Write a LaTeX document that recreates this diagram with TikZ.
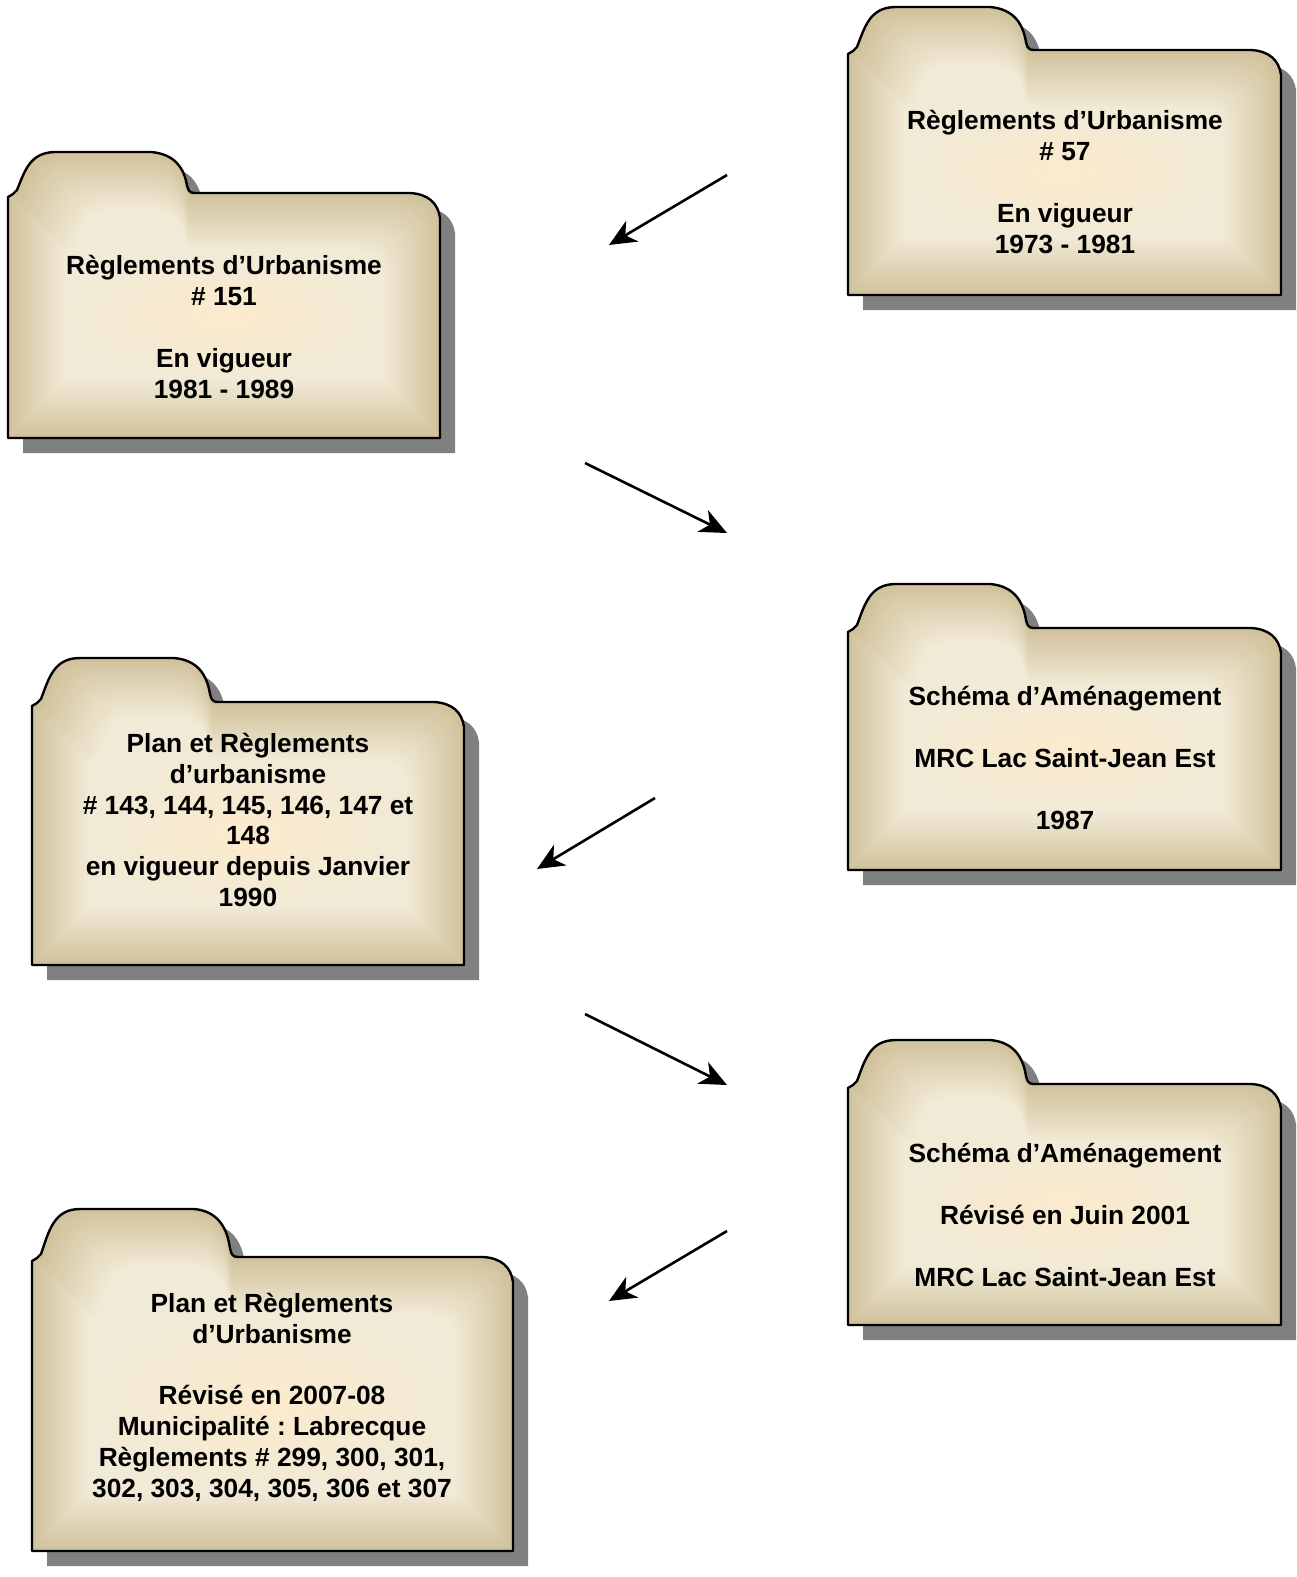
\documentclass[tikz,border=0pt]{standalone}
\usepackage{fontspec}
\setmainfont{Liberation Sans}
\frenchspacing
\usetikzlibrary{arrows.meta}
\definecolor{fcenter}{HTML}{FCEACC}
\definecolor{fmid}{HTML}{F1EAD6}
\definecolor{fedge}{HTML}{D0C29B}
\definecolor{fshadow}{HTML}{808080}
\newcommand\folderpath[6]{%
 (#1,#4) -- (#1,#2+4) -- (#1+5,#2+1) -- (#1+9,#2-3)
 .. controls (#1+17,#2-0.55*#5) and (#1+22,#2-#5) .. (#1+48,#2-#5)
 -- (#1+#6-40,#2-#5)
 .. controls (#1+#6-16,#2-#5+2) and (#1+#6-8,#2-0.6*#5) .. (#1+#6-5,#2-0.3*#5)
 .. controls (#1+#6-3,#2-0.05*#5) and (#1+#6-2,#2) .. (#1+#6+4,#2)
 -- (#3-30,#2) .. controls (#3-12,#2+1) and (#3-2,#2+10) .. (#3,#2+25)
 -- (#3,#4) -- cycle}
\newcommand\drawfolder[6]{%
  \fill[fshadow,shift={(15,15)}] \folderpath{#1}{#2}{#3}{#4}{#5}{#6};
  \foreach \d [evaluate=\d as \p using {\d*100/56}] in {0,4,...,56}{%
    \fill[fmid!\p!fedge] \folderpath{#1+\d}{#2+\d}{#3-\d}{#4-\d}{#5}{#6-\d};
  }
  \shade[inner color=fcenter,outer color=fmid]
    ({(#1+#3)/2},{(#2+#4)/2}) ellipse ({(#3-#1)/2-58} and {(#4-#2)/2-58});
  \draw[black,line width=2.4pt,line join=round] \folderpath{#1}{#2}{#3}{#4}{#5}{#6};
}
\tikzset{
  foldertext/.style={align=center,text=black,inner sep=0pt,
    font=\fontsize{26.3}{30.8}\selectfont\bfseries},
  flowarrow/.style={line width=2.6pt,-{Stealth[length=27pt,width=24pt,inset=8pt]}}
}
\begin{document}
\begin{tikzpicture}[x=1pt,y=-1pt]
\useasboundingbox (0,0) rectangle (1296,1577);
% folders
\drawfolder{848}{50}{1281}{295}{43}{182}
\drawfolder{8}{193}{440}{438}{41}{183}
\drawfolder{848}{628}{1281}{870}{44}{182}
\drawfolder{32}{702}{464}{965}{44}{182}
\drawfolder{848}{1084}{1281}{1325}{44}{182}
\drawfolder{32}{1257}{513}{1551}{48}{202}
% texts
\node[foldertext] (t1) at (1065,182) {Règlements d’Urbanisme\\\# 57\\[30.8pt]En vigueur\\1973 - 1981};
\node[foldertext] (t2) at (224,327) {Règlements d’Urbanisme\\\# 151\\[30.8pt]En vigueur\\1981 - 1989};
\node[foldertext] (t3) at (1065,758) {Schéma d’Aménagement\\[30.8pt]MRC Lac Saint-Jean Est\\[30.8pt]1987};
\node[foldertext] (t4) at (248,820) {Plan et Règlements\\d’urbanisme\\\# 143, 144, 145, 146, 147 et\\148\\en vigueur depuis Janvier\\1990};
\node[foldertext] (t5) at (1065,1215) {Schéma d’Aménagement\\[30.8pt]Révisé en Juin 2001\\[30.8pt]MRC Lac Saint-Jean Est};
\node[foldertext] (t6) at (272,1397) {Plan et Règlements\\d’Urbanisme\\[30.8pt]Révisé en 2007-08\\Municipalité : Labrecque\\Règlements \# 299, 300, 301,\\302, 303, 304, 305, 306 et 307};
% arrows
\coordinate (a1s) at (727,175); \coordinate (a1e) at (609,245);
\coordinate (a2s) at (585,463); \coordinate (a2e) at (727,533);
\coordinate (a3s) at (655,798); \coordinate (a3e) at (537,869);
\coordinate (a4s) at (585,1014); \coordinate (a4e) at (727,1085);
\coordinate (a5s) at (727,1231); \coordinate (a5e) at (609,1301);
\draw[flowarrow] (a1s) -- (a1e);
\draw[flowarrow] (a2s) -- (a2e);
\draw[flowarrow] (a3s) -- (a3e);
\draw[flowarrow] (a4s) -- (a4e);
\draw[flowarrow] (a5s) -- (a5e);
\end{tikzpicture}
\end{document}
